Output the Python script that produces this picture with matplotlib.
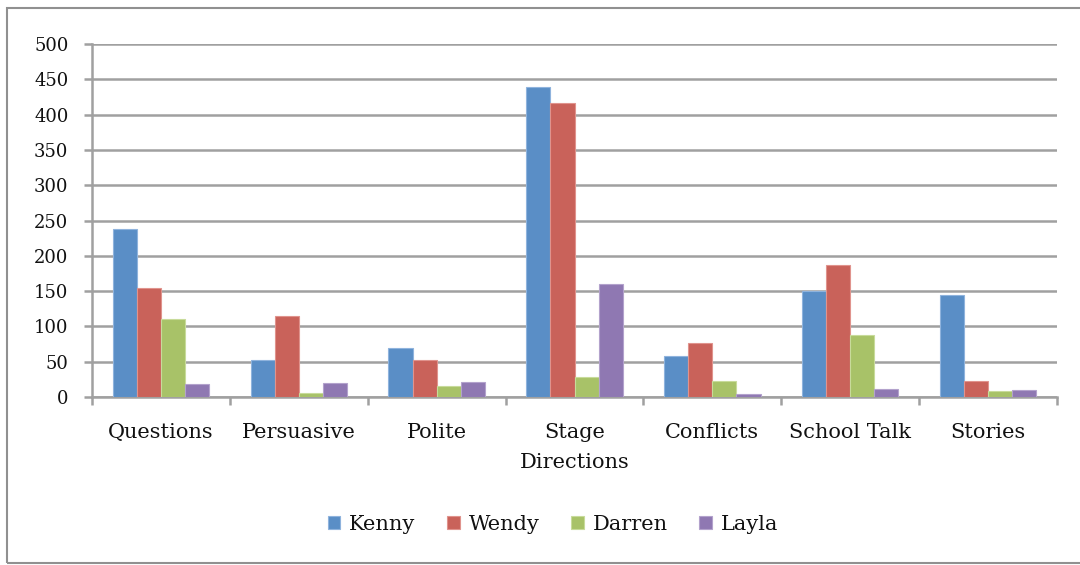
import matplotlib
matplotlib.use("Agg")
import matplotlib.pyplot as plt
import numpy as np
from matplotlib.patches import Rectangle

categories = ["Questions", "Persuasive", "Polite", "Stage\nDirections", "Conflicts", "School Talk", "Stories"]
series_names = ["Kenny", "Wendy", "Darren", "Layla"]
kenny = [238, 53, 70, 439, 58, 150, 145]
wendy = [155, 115, 52, 417, 77, 187, 22]
darren = [110, 5, 15, 28, 22, 88, 9]
layla = [18, 20, 21, 160, 4, 11, 10]
y_ticks = [0, 50, 100, 150, 200, 250, 300, 350, 400, 450, 500]

colors = ["#5A8EC6", "#C9625A", "#A8C268", "#8F78B2"]
edge_colors = ["#8FB3DD", "#E0938D", "#C8DB9B", "#B3A2CC"]

plt.rcParams['font.family'] = ['DejaVu Serif']

fig = plt.figure(figsize=(10.8, 5.65), dpi=100)
ax = fig.add_axes([92/1080, 1-397/565, (1057-92)/1080, (397-44)/565])

x = np.arange(len(categories))
w = 0.175
data = [kenny, wendy, darren, layla]
for i, (name, vals) in enumerate(zip(series_names, data)):
    ax.bar(x + (i - 1.5) * w, vals, width=w, color=colors[i], edgecolor=edge_colors[i],
           linewidth=0.8, label=name, zorder=3)

ax.set_xlim(-0.5, len(categories) - 0.5)
ax.set_ylim(0, 500)
ax.set_yticks(y_ticks)
ax.set_yticklabels([str(t) for t in y_ticks], fontsize=13, color="#111111")
ax.yaxis.grid(True, color="#A0A0A0", linewidth=1.8, zorder=0)
ax.set_axisbelow(True)

ax.set_xticks(x)
ax.set_xticklabels(categories, fontsize=15, linespacing=1.72, color="#111111")
ax.set_xticks(np.arange(len(categories) + 1) - 0.5, minor=True)
ax.tick_params(axis='x', which='major', length=0, pad=19)
ax.tick_params(axis='x', which='minor', length=6, width=1.8, color="#A0A0A0", direction='out')
ax.tick_params(axis='y', length=6, width=1.8, color="#A0A0A0", direction='out', pad=11)

for s in ["top", "right"]:
    ax.spines[s].set_visible(False)
for s in ["left", "bottom"]:
    ax.spines[s].set_color("#A0A0A0")
    ax.spines[s].set_linewidth(1.8)

leg = fig.legend(loc="center", bbox_to_anchor=(553/1080, 1-524/565), ncol=4, frameon=False,
                 fontsize=15, handlelength=0.6, handleheight=0.6, handletextpad=0.45,
                 columnspacing=1.5)
for t in leg.get_texts():
    t.set_color("#111111")

fig.patches.append(Rectangle((7/1080, 2/565), 1080/1080, 1-10/565, transform=fig.transFigure,
                             fill=False, edgecolor="#909090", linewidth=1.5))

fig.savefig("out.png", dpi=100)
